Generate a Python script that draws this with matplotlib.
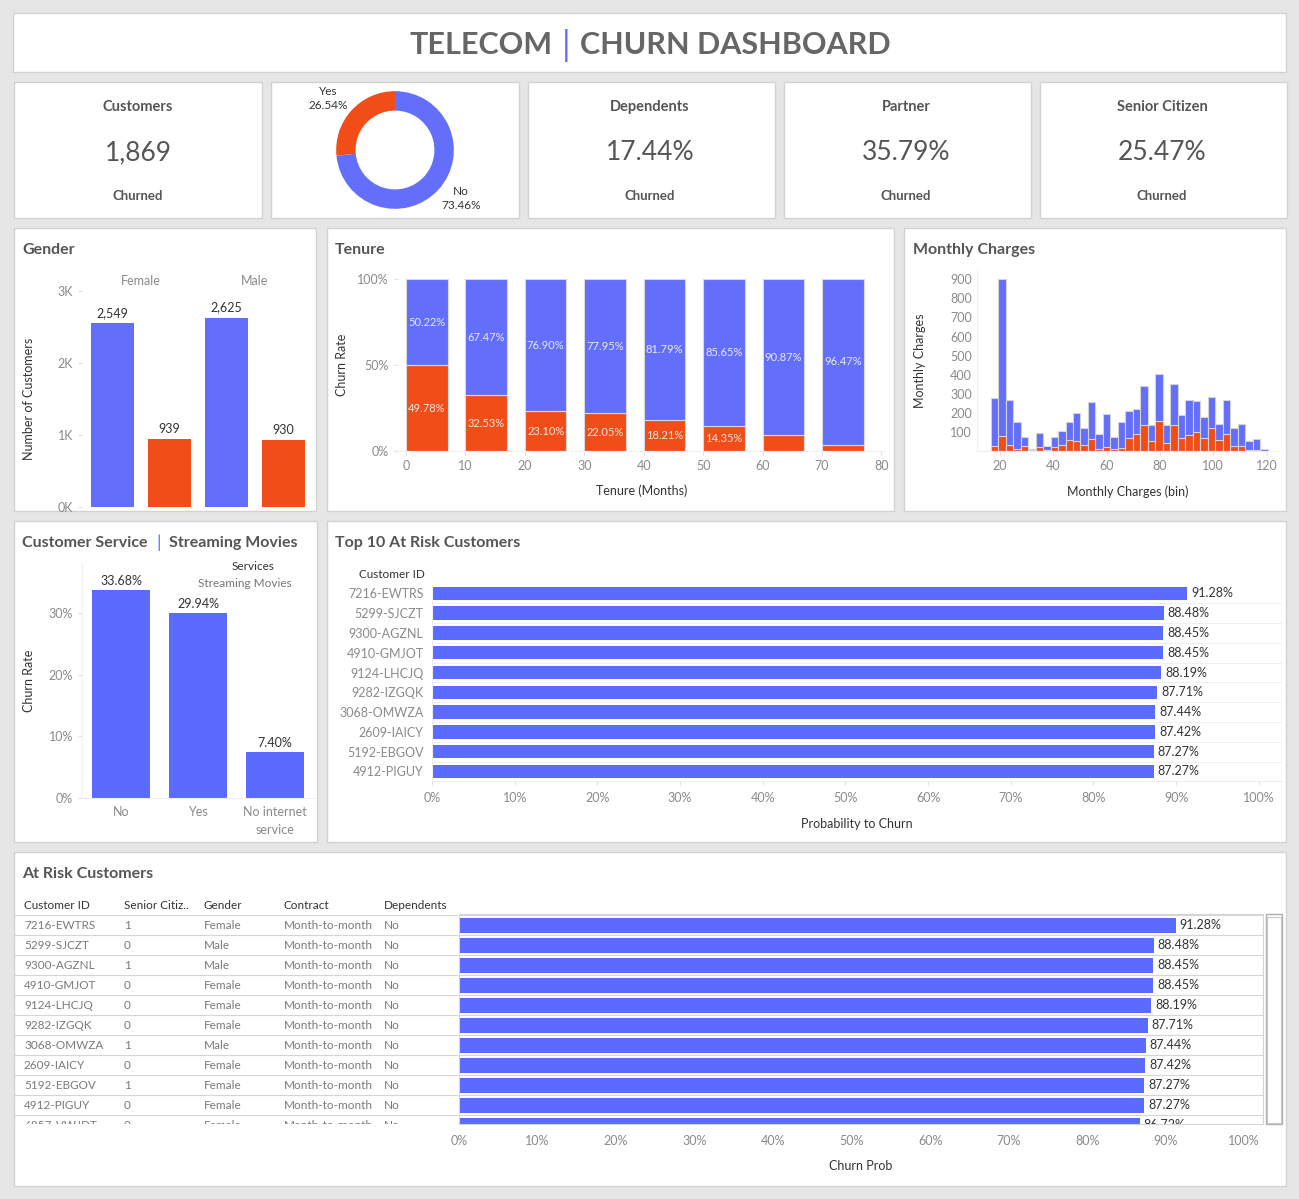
import matplotlib
matplotlib.use("Agg")
import matplotlib.pyplot as plt
from matplotlib.patches import Rectangle
import numpy as np

plt.rcParams['font.family'] = ['Lato', 'DejaVu Sans']

# ---- data ----
kpi_titles = ['Customers', 'Dependents', 'Partner', 'Senior Citizen']
kpi_values = ['1,869', '17.44%', '35.79%', '25.47%']

churn_labels = ['No', 'Yes']
churn_share = [73.46, 26.54]

genders = ['Female', 'Male']
gender_stay = [2549, 2625]
gender_churn = [939, 930]

tenure_bins = [0, 10, 20, 30, 40, 50, 60, 70]
tenure_stay = [50.22, 67.47, 76.90, 77.95, 81.79, 85.65, 90.87, 96.47]
tenure_churn = [49.78, 32.53, 23.10, 22.05, 18.21, 14.35, 9.13, 3.53]

charge_bin_start = 16.5
charge_bin_width = 2.81
charge_total = [280, 900, 268, 152, 72, 12, 92, 25, 72, 103, 152, 200, 120, 258, 88, 195, 73,
                152, 210, 220, 342, 135, 405, 135, 352, 188, 268, 262, 178, 283, 142, 268, 120,
                142, 55, 62, 8]
charge_churn = [25, 80, 30, 10, 25, 5, 20, 5, 20, 30, 57, 52, 30, 62, 8, 20, 8,
                15, 68, 88, 135, 52, 155, 40, 135, 68, 82, 102, 68, 118, 58, 88, 25,
                25, 3, 3, 2]

services = ['No', 'Yes', 'No internet\nservice']
service_rate = [33.68, 29.94, 7.40]

top_ids = ['7216-EWTRS', '5299-SJCZT', '9300-AGZNL', '4910-GMJOT', '9124-LHCJQ',
           '9282-IZGQK', '3068-OMWZA', '2609-IAICY', '5192-EBGOV', '4912-PIGUY']
top_prob = [91.28, 88.48, 88.45, 88.45, 88.19, 87.71, 87.44, 87.42, 87.27, 87.27]

risk_ids = top_ids + ['6857-VWJDT']
risk_senior = ['1', '0', '1', '0', '0', '0', '1', '0', '1', '0', '0']
risk_gender = ['Female', 'Male', 'Male', 'Female', 'Female', 'Female', 'Male', 'Female',
               'Female', 'Female', 'Female']
risk_contract = ['Month-to-month'] * 11
risk_dependents = ['No'] * 11
risk_prob = top_prob + [86.72]

# ---- style ----
BLUE = '#636efa'
ORANGE = '#f14d18'
TITLE = '#555555'
TICK = '#8a8a8a'
DARK = '#333333'
W, H = 1299, 1199

fig = plt.figure(figsize=(W / 100, H / 100), dpi=100, facecolor='#e6e6e6')


def box(x0, y0, x1, y1):
    return [x0 / W, 1 - y1 / H, (x1 - x0) / W, (y1 - y0) / H]


def panel(x0, y0, x1, y1):
    fig.patches.append(Rectangle((x0 / W, 1 - y1 / H), (x1 - x0) / W, (y1 - y0) / H,
                                 transform=fig.transFigure, facecolor='white',
                                 edgecolor='#d2d2d2', lw=1, zorder=-5))


def ftext(x, y, s, **kw):
    kw.setdefault('va', 'center')
    return fig.text(x / W, 1 - y / H, s, **kw)


def style(ax):
    ax.set_facecolor('none')
    for sp in ax.spines.values():
        sp.set_visible(False)
    ax.tick_params(colors='#e0e0e0', labelcolor=TICK, labelsize=9, length=3)


for p in [(13, 13, 1286, 72), (14, 82, 262, 218), (271, 82, 519, 218), (528, 82, 775, 218),
          (784, 82, 1031, 218), (1040, 82, 1287, 218), (14, 228, 316, 511), (327, 228, 894, 511),
          (904, 228, 1286, 511), (14, 521, 317, 842), (327, 521, 1286, 842), (14, 852, 1286, 1186)]:
    panel(*p)

# title
ftext(553, 45, 'TELECOM', ha='right', fontsize=22, fontweight='bold', color='#666666')
ftext(566, 45, '|', ha='center', fontsize=25, color=BLUE)
ftext(580, 45, 'CHURN DASHBOARD', ha='left', fontsize=22, fontweight='bold', color='#666666')

# KPI cards
for cx, t, v in zip([138, 650, 906, 1162], kpi_titles, kpi_values):
    ftext(cx, 107, t, ha='center', fontsize=10.5, fontweight='bold', color=TITLE)
    ftext(cx, 153, v, ha='center', fontsize=19, color='#555555')
    ftext(cx, 196, 'Churned', ha='center', fontsize=9.5, fontweight='bold', color=TITLE)

# donut
ax = fig.add_axes(box(335, 90, 455, 210))
ax.pie(churn_share, colors=[BLUE, ORANGE], startangle=90, counterclock=False,
       wedgeprops=dict(width=0.33, edgecolor='none'))
ax.set_xlim(-1.02, 1.02)
ax.set_ylim(-1.02, 1.02)
ax.text(-1.14, 0.88, f'{churn_labels[1]}\n{churn_share[1]:.2f}%', ha='center', va='center',
        fontsize=8.5, color=DARK, linespacing=1.3)
ax.text(1.12, -0.83, f'{churn_labels[0]}\n{churn_share[0]:.2f}%', ha='center', va='center',
        fontsize=8.5, color=DARK, linespacing=1.3)

# panel titles
for x, y, s in [(22, 250, 'Gender'), (335, 250, 'Tenure'), (913, 250, 'Monthly Charges'),
                (335, 543, 'Top 10 At Risk Customers'), (22, 874, 'At Risk Customers')]:
    ftext(x, y, s, fontsize=11.5, fontweight='bold', color=TITLE)
ftext(22, 543, 'Customer Service', fontsize=11.5, fontweight='bold', color=TITLE)
ftext(159, 543, '|', ha='center', fontsize=12.5, color=BLUE)
ftext(169, 543, 'Streaming Movies', fontsize=11.5, fontweight='bold', color=TITLE)

# gender
ax = fig.add_axes(box(82, 290, 310, 507))
style(ax)
pos = np.arange(4)
vals = [gender_stay[0], gender_churn[0], gender_stay[1], gender_churn[1]]
ax.bar(pos, vals, width=0.75, color=[BLUE, ORANGE, BLUE, ORANGE])
for x, v in zip(pos, vals):
    ax.text(x, v + 60, f'{v:,}', ha='center', va='bottom', fontsize=9, color=DARK)
for i, g in enumerate(genders):
    ax.text(2 * i + 0.5, 1.04, g, transform=ax.get_xaxis_transform(), ha='center',
            va='center', fontsize=9, color=TICK)
ax.set_xlim(-0.54, 3.47)
ax.set_ylim(0, 3010)
ax.set_yticks([0, 1000, 2000, 3000], ['0K', '1K', '2K', '3K'])
ax.set_xticks([])
ax.set_ylabel('Number of Customers', fontsize=9, color=DARK)
ax.yaxis.set_label_coords((35 - 82) / 228, 0.5)

# tenure
ax = fig.add_axes(box(398, 279, 885, 451))
style(ax)
ax.spines['bottom'].set_visible(True)
ax.spines['bottom'].set_color('#eeeeee')
ax.bar(tenure_bins, [c / 100 for c in tenure_churn], width=7, align='edge', color=ORANGE,
       edgecolor='#d9d9d9', lw=0.8)
ax.bar(tenure_bins, [s / 100 for s in tenure_stay], width=7, align='edge',
       bottom=[c / 100 for c in tenure_churn], color=BLUE, edgecolor='#d9d9d9', lw=0.8)
for x, s, c in zip(tenure_bins, tenure_stay, tenure_churn):
    ax.text(x + 3.5, c / 100 + s / 200, f'{s:.2f}%', ha='center', va='center', fontsize=8,
            color='#e8eaff')
    if c >= 10:
        ax.text(x + 3.5, c / 200, f'{c:.2f}%', ha='center', va='center', fontsize=8,
                color='#ffe8e0')
ax.set_xlim(-1.35, 80.6)
ax.set_ylim(0, 1)
ax.set_yticks([0, 0.5, 1], ['0%', '50%', '100%'])
ax.set_xticks(range(0, 81, 10))
ax.set_ylabel('Churn Rate', fontsize=9, color=DARK)
ax.yaxis.set_label_coords((348 - 398) / 487, 0.5)
ax.set_xlabel('Tenure (Months)', fontsize=9, color=DARK, labelpad=9)

# monthly charges
ax = fig.add_axes(box(977, 270, 1278, 451))
style(ax)
ax.spines['bottom'].set_visible(True)
ax.spines['bottom'].set_color('#eeeeee')
ax.spines['left'].set_visible(True)
ax.spines['left'].set_color('#f2f2f2')
edges = charge_bin_start + charge_bin_width * np.arange(len(charge_total))
ax.bar(edges, charge_total, width=charge_bin_width, align='edge', color=BLUE,
       edgecolor='#d4d4d4', lw=0.8)
ax.bar(edges, charge_churn, width=charge_bin_width, align='edge', color=ORANGE,
       edgecolor='#d4d4d4', lw=0.8)
ax.set_xlim(11.4, 124.3)
ax.set_ylim(0, 949)
ax.set_yticks(range(100, 901, 100))
ax.set_xticks(range(20, 121, 20))
ax.tick_params(axis='y', length=0)
ax.set_ylabel('Monthly Charges', fontsize=9, color=DARK)
ax.yaxis.set_label_coords((926 - 977) / 301, 0.5)
ax.set_xlabel('Monthly Charges (bin)', fontsize=9, color=DARK, labelpad=10)

# customer service
ax = fig.add_axes(box(82, 563, 314, 798))
style(ax)
ax.spines['bottom'].set_visible(True)
ax.spines['bottom'].set_color('#eeeeee')
ax.spines['left'].set_visible(True)
ax.spines['left'].set_color('#f2f2f2')
sp = np.arange(len(services))
ax.bar(sp, [r / 100 for r in service_rate], width=0.75, color='#5b6bff')
for x, r in zip(sp, service_rate):
    ax.text(x, r / 100 + 0.006, f'{r:.2f}%', ha='center', va='bottom', fontsize=9, color=DARK)
ax.set_xlim(-0.506, 2.506)
ax.set_ylim(0, 0.381)
ax.set_yticks([0, 0.1, 0.2, 0.3], ['0%', '10%', '20%', '30%'])
ax.set_xticks(sp, services)
for lab in ax.get_xticklabels():
    lab.set_linespacing(1.6)
ax.tick_params(axis='x', length=0, pad=6)
ax.set_ylabel('Churn Rate', fontsize=9, color=DARK)
ax.yaxis.set_label_coords((35 - 82) / 232, 0.5)
ftext(253, 566, 'Services', ha='center', fontsize=8.5, color=DARK)
ftext(245, 584, 'Streaming Movies', ha='center', fontsize=8.5, color='#777777')

# top 10
ax = fig.add_axes(box(432, 586, 1282, 781))
style(ax)
ax.spines['bottom'].set_visible(True)
ax.spines['bottom'].set_color('#eeeeee')
ax.spines['left'].set_visible(True)
ax.spines['left'].set_color('#eeeeee')
rows = np.arange(len(top_ids))
ax.barh(rows, top_prob, height=0.67, color='#5b6bff')
for r in range(len(top_ids) + 1):
    ax.axhline(r - 0.5, color='#f0f0f0', lw=0.8, zorder=0)
for y, v in zip(rows, top_prob):
    ax.text(v + 0.5, y, f'{v:.2f}%', va='center', ha='left', fontsize=9, color=DARK)
ax.set_xlim(0, 102.8)
ax.set_ylim(9.48, -0.37)
ax.set_xticks(range(0, 101, 10), [f'{t}%' for t in range(0, 101, 10)])
ax.set_yticks(rows, top_ids)
ax.tick_params(axis='y', length=0, pad=6)
ax.tick_params(axis='x', pad=5)
ax.set_xlabel('Probability to Churn', fontsize=9, color=DARK, labelpad=10)
ftext(425, 574, 'Customer ID', ha='right', fontsize=8.5, color=DARK)

# at risk table
col_x = [24, 124, 204, 284, 384]
headers = ['Customer ID', 'Senior Citiz..', 'Gender', 'Contract', 'Dependents']
columns = [risk_ids, risk_senior, risk_gender, risk_contract, risk_dependents]
tab = fig.add_axes(box(14, 895, 458, 1124))
tab.set_xlim(14, 458)
tab.set_ylim(1124, 895)
tab.axis('off')
for x, h in zip(col_x, headers):
    tab.text(x, 905, h, va='center', fontsize=8.5, color=DARK)
for i in range(len(risk_ids)):
    tab.axhline(915 + 20 * i, color='#d5d5d5', lw=0.8)
    for x, col in zip(col_x, columns):
        tab.text(x, 925 + 20 * i, col[i], va='center', fontsize=8.5, color='#7a7a7a',
                 clip_on=True)
tab.axhline(1123.5, color='#d5d5d5', lw=0.8)

ax = fig.add_axes(box(459, 914, 1263, 1124))
style(ax)
for s in ['left', 'right', 'top', 'bottom']:
    ax.spines[s].set_visible(True)
    ax.spines[s].set_color('#d5d5d5')
rr = np.arange(len(risk_prob))
ax.barh(rr, risk_prob, height=0.75, color='#5b6bff')
for r in range(len(risk_prob)):
    ax.axhline(r - 0.5, color='#d5d5d5', lw=0.8, zorder=0)
for y, v in zip(rr, risk_prob):
    ax.text(v + 0.5, y, f'{v:.2f}%', va='center', ha='left', fontsize=9, color=DARK,
            clip_on=True)
ax.set_xlim(0, 102.4)
ax.set_ylim(9.95, -0.55)
ax.set_yticks([])
ax.set_xticks(range(0, 101, 10), [f'{t}%' for t in range(0, 101, 10)])
ax.tick_params(axis='x', pad=8, length=0)
ax.set_xlabel('Churn Prob', fontsize=9, color=DARK, labelpad=9)

# scrollbar
fig.patches.append(Rectangle((1266 / W, 1 - 1124 / H), 16 / W, 210 / H, transform=fig.transFigure,
                             facecolor='white', edgecolor='#b0b0b0', lw=1))
fig.patches.append(Rectangle((1267 / W, 1 - 1123 / H), 14 / W, 206 / H, transform=fig.transFigure,
                             facecolor='white', edgecolor='#c8c8c8', lw=0.8))

fig.savefig('out.png', dpi=100, facecolor=fig.get_facecolor())
